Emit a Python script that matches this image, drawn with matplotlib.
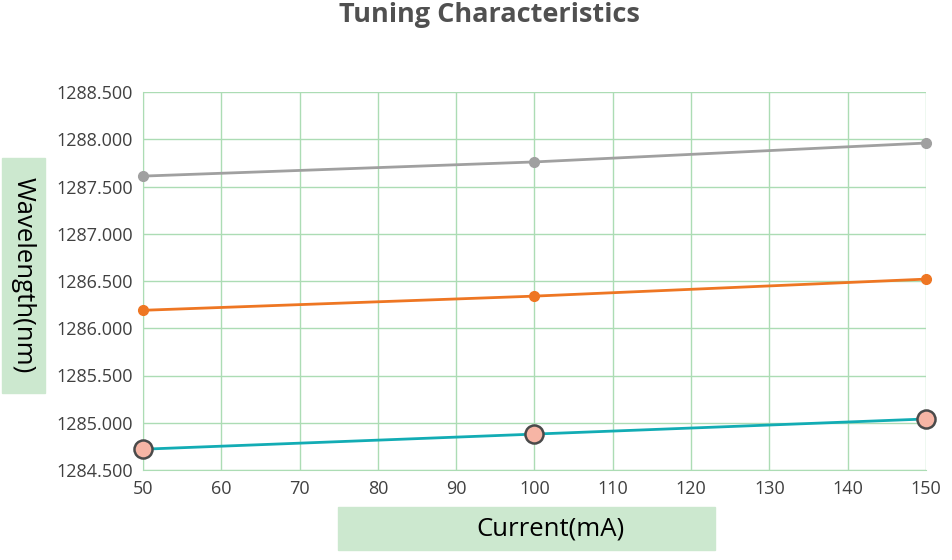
import matplotlib.pyplot as plt
from matplotlib.ticker import FormatStrFormatter, MultipleLocator

plt.rcParams['font.family'] = ['Open Sans', 'DejaVu Sans']

# data
current = [50, 100, 150]
wl_top = [1287.61, 1287.76, 1287.96]
wl_mid = [1286.19, 1286.34, 1286.52]
wl_low = [1284.72, 1284.88, 1285.04]

grid_col = '#acdcb4'
box_col = '#cce8cf'

fig = plt.figure(figsize=(9.53, 5.6), dpi=100)
ax = fig.add_axes([143 / 953, 1 - 470 / 560, (926 - 143) / 953, (470 - 92) / 560])

ax.plot(current, wl_top, color='#a0a0a0', lw=2, marker='o', ms=7, zorder=3)
ax.plot(current, wl_mid, color='#ee7623', lw=2, marker='o', ms=7, zorder=3)
ax.plot(current, wl_low, color='#12acb4', lw=2, marker='o', ms=13,
        mfc='#f7b5a5', mec='#4a4a4a', mew=1.8, zorder=3)

ax.set_xlim(50, 150)
ax.set_ylim(1284.5, 1288.5)
ax.xaxis.set_major_locator(MultipleLocator(10))
ax.yaxis.set_major_locator(MultipleLocator(0.5))
ax.yaxis.set_major_formatter(FormatStrFormatter('%.3f'))
ax.grid(True, color=grid_col, lw=1)
for side in ['top', 'right']:
    ax.spines[side].set_visible(False)
ax.spines['left'].set_color(grid_col)
ax.spines['bottom'].set_color(grid_col)
ax.tick_params(length=0, labelsize=13, labelcolor='#404040', pad=7)
ax.set_axisbelow(True)
for line in ax.lines:
    line.set_clip_on(False)

fig.text(489 / 953, 1 - 15 / 560, 'Tuning Characteristics', ha='center', va='center',
         fontsize=19.5, fontweight='bold', color='#505050')

# axis label boxes
fig.patches.append(plt.Rectangle((2 / 953, 1 - 393 / 560), 43 / 953, 235 / 560,
                                 transform=fig.transFigure, color=box_col, zorder=0))
fig.text(23 / 953, 1 - 275 / 560, 'Wavelength(nm)', rotation=-90, ha='center', va='center',
         fontsize=18.5, color='black')
fig.patches.append(plt.Rectangle((338 / 953, 1 - 550 / 560), 377 / 953, 43 / 560,
                                 transform=fig.transFigure, color=box_col, zorder=0))
fig.text(551 / 953, 1 - 529 / 560, 'Current(mA)', ha='center', va='center',
         fontsize=18.5, color='black')

fig.savefig('out.png', dpi=100)
